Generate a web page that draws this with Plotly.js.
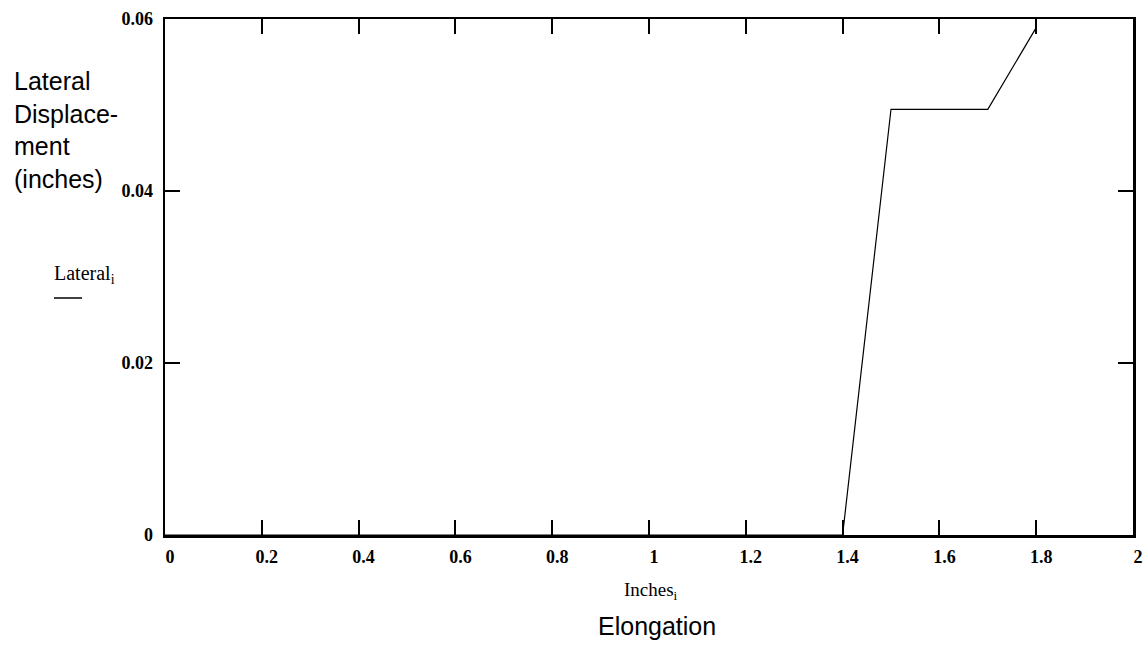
<!DOCTYPE html>
<html>
<head>
<meta charset="utf-8">
<script src="https://cdn.plot.ly/plotly-3.0.1.min.js"></script>
<style>
  html, body { margin: 0; padding: 0; background: #fff; }
  #chart { width: 1143px; height: 647px; }
</style>
</head>
<body>
<div id="chart"></div>
<script>
// Elongation (inches) vs lateral displacement (inches)
const inches = [0, 0.1, 0.2, 0.3, 0.4, 0.5, 0.6, 0.7, 0.8, 0.9, 1.0, 1.1, 1.2, 1.3, 1.4, 1.5, 1.6, 1.7, 1.8];
const lateral = [0, 0, 0, 0, 0, 0, 0, 0, 0, 0, 0, 0, 0, 0, 0, 0.0495, 0.0495, 0.0495, 0.059];

const xTicks = [0, 0.2, 0.4, 0.6, 0.8, 1, 1.2, 1.4, 1.6, 1.8, 2];
const xTickText = ['0', '0.2', '0.4', '0.6', '0.8', '1', '1.2', '1.4', '1.6', '1.8', '2'];
const yTicks = [0, 0.02, 0.04, 0.06];
const yTickText = ['0', '0.02', '0.04', '0.06'];

const serif = 'Liberation Serif, Times New Roman, serif';
const sans = 'Liberation Sans, Arial, sans-serif';

const trace = {
  x: inches,
  y: lateral,
  type: 'scatter',
  mode: 'lines',
  line: { color: '#000', width: 1.2 },
  hoverinfo: 'skip'
};

const axisCommon = {
  showgrid: false,
  zeroline: false,
  showline: true,
  linecolor: '#000',
  linewidth: 2.5,
  mirror: 'allticks',
  ticks: 'inside',
  ticklen: 15,
  tickwidth: 2,
  tickcolor: '#000',
  tickfont: { family: serif, size: 18, color: '#000', weight: 'bold' },
  fixedrange: true
};

const layout = {
  width: 1143,
  height: 647,
  margin: { l: 165, r: 10, t: 19, b: 112 },
  paper_bgcolor: '#fff',
  plot_bgcolor: '#fff',
  showlegend: false,
  xaxis: Object.assign({}, axisCommon, {
    range: [0, 2],
    tickmode: 'array',
    tickvals: xTicks,
    ticktext: xTickText,
    ticklabelshift: 5,
    ticklabelstandoff: 4
  }),
  yaxis: Object.assign({}, axisCommon, {
    range: [0, 0.06],
    tickmode: 'array',
    tickvals: yTicks,
    ticktext: yTickText,
    ticklabelstandoff: 6
  }),
  shapes: [
    // short rule under the "Lateral" variable name
    {
      type: 'line', xref: 'paper', yref: 'paper',
      x0: -0.1147, x1: -0.0857, y0: 0.4593, y1: 0.4593,
      line: { color: '#000', width: 1.5 }
    }
  ],
  annotations: [
    {
      xref: 'paper', yref: 'paper', x: -0.158, y: 0.785,
      xanchor: 'left', yanchor: 'middle', align: 'left', showarrow: false,
      text: 'Lateral<br>Displace-<br>ment<br>(inches)',
      font: { family: sans, size: 25, color: '#000' }
    },
    {
      xref: 'paper', yref: 'paper', x: -0.1165, y: 0.505,
      xanchor: 'left', yanchor: 'middle', showarrow: false,
      text: 'Lateral<sub>i</sub>',
      font: { family: serif, size: 20, color: '#000' }
    },
    {
      xref: 'paper', yref: 'paper', x: 0.502, y: -0.108,
      xanchor: 'center', yanchor: 'middle', showarrow: false,
      text: 'Inches<sub>i</sub>',
      font: { family: serif, size: 19, color: '#000' }
    },
    {
      xref: 'paper', yref: 'paper', x: 0.508, y: -0.176,
      xanchor: 'center', yanchor: 'middle', showarrow: false,
      text: 'Elongation',
      font: { family: sans, size: 25, color: '#000' }
    }
  ]
};

Plotly.newPlot('chart', [trace], layout, { displayModeBar: false, staticPlot: true });
</script>
</body>
</html>
